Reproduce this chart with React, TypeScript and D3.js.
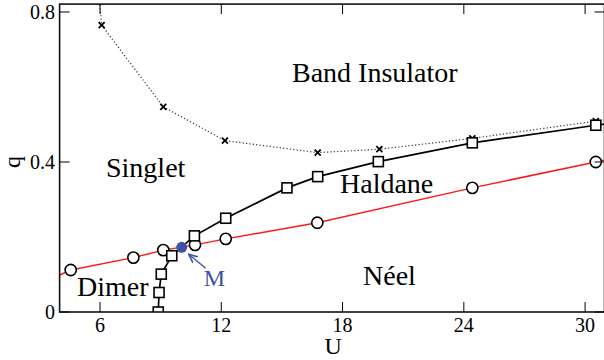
import React from "react";
import * as d3 from "d3";

// Phase boundaries (U on x, q on y)
const U_SQUARE = [8.88, 8.92, 9.03, 9.55, 10.67, 12.22, 15.25, 16.77, 19.77, 24.42, 30.53];
const Q_SQUARE = [0, 0.052, 0.101, 0.15, 0.203, 0.25, 0.331, 0.361, 0.401, 0.451, 0.498];

const U_CIRCLE = [4.55, 7.65, 9.13, 10.7, 12.22, 16.75, 24.42, 30.53];
const Q_CIRCLE = [0.112, 0.145, 0.165, 0.179, 0.195, 0.238, 0.331, 0.4];

const U_CROSS = [6.08, 9.13, 12.18, 16.77, 19.82, 24.42, 30.53];
const Q_CROSS = [0.765, 0.547, 0.457, 0.425, 0.434, 0.463, 0.509];

// line ends that run off the frame (clipped)
const RED_START: [number, number] = [0, 0];
const RED_END: [number, number] = [31.5, 0.411];
const SQUARE_END: [number, number] = [31.5, 0.505];
const CROSS_START: [number, number] = [5.85, 0.9];
const CROSS_END: [number, number] = [31.5, 0.516];

const POINT_M: [number, number] = [10.04, 0.1725];

const X_TICKS = [6, 12, 18, 24, 30];
const Y_TICKS = [0, 0.4, 0.8];
const Y_TICK_LABELS = ["0", "0.4", "0.8"];

const REGIONS = [
  { text: "Band Insulator", x: 292, y: 82 },
  { text: "Singlet", x: 106, y: 177 },
  { text: "Haldane", x: 340, y: 193 },
  { text: "Néel", x: 363, y: 285 },
  { text: "Dimer", x: 77, y: 296 },
];

const W = 604;
const H = 360;
const FONT = "Liberation Serif, Times New Roman, serif";
const BLUE = "#3d52a6";

const zip = (us: number[], qs: number[]): [number, number][] => us.map((u, i) => [u, qs[i]]);

export default function App() {
  const x = d3.scaleLinear().domain([4, 30.96]).range([59.6, 604.5]);
  const y = d3.scaleLinear().domain([0, 0.821]).range([312, 4.1]);
  const [x0, x1] = x.range();
  const [yb, yt] = y.range();

  const line = d3
    .line<[number, number]>()
    .x((d) => x(d[0]))
    .y((d) => y(d[1]));

  const squares = zip(U_SQUARE, Q_SQUARE);
  const circles = zip(U_CIRCLE, Q_CIRCLE);
  const crosses = zip(U_CROSS, Q_CROSS);

  const mx = x(POINT_M[0]);
  const my = y(POINT_M[1]);

  return (
    <svg width={W} height={H} style={{ position: "absolute", left: 0, top: 0, background: "white", fontFamily: FONT }}>
      <defs>
        <clipPath id="plot">
          <rect x={x0} y={yt} width={x1 - x0} height={yb - yt} />
        </clipPath>
        <marker id="arrow" viewBox="0 0 10 10" refX="9" refY="5" markerWidth="7" markerHeight="7" orient="auto">
          <path d="M0,1 L9,5 L0,9" fill="none" stroke={BLUE} strokeWidth={1.6} />
        </marker>
      </defs>

      <g clipPath="url(#plot)">
        {/* dotted band-insulator boundary */}
        <path d={line([CROSS_START, ...crosses, CROSS_END]) ?? ""} fill="none"
          stroke="#333" strokeWidth={1.2} strokeDasharray="1.2,2.2" />
        {crosses.map(([u, q], i) => (
          <path key={`x${i}`} d={`M${x(u) - 3},${y(q) - 3}L${x(u) + 3},${y(q) + 3}M${x(u) - 3},${y(q) + 3}L${x(u) + 3},${y(q) - 3}`}
            stroke="#000" strokeWidth={1.8} />
        ))}

        {/* red line with circles */}
        <path d={line([RED_START, ...circles, RED_END]) ?? ""} fill="none" stroke="#ff1a1a" strokeWidth={1.5} />
        {/* black line with squares */}
        <path d={line([...squares, SQUARE_END]) ?? ""} fill="none" stroke="#000" strokeWidth={1.7} />

        {circles.map(([u, q], i) => (
          <circle key={`c${i}`} cx={x(u)} cy={y(q)} r={5.6} fill="white" stroke="#000" strokeWidth={1.6} />
        ))}
        {squares.map(([u, q], i) => (
          <rect key={`s${i}`} x={x(u) - 5} y={y(q) - 5} width={10} height={10} fill="white" stroke="#000" strokeWidth={1.6} />
        ))}
      </g>

      {/* point M */}
      <circle cx={mx} cy={my} r={5.5} fill={BLUE} />
      <line x1={mx + 24} y1={my + 21} x2={mx + 7} y2={my + 7} stroke={BLUE} strokeWidth={1.4} markerEnd="url(#arrow)" />
      <text x={mx + 22} y={my + 39} fontFamily={FONT} fontSize={24} fill={BLUE}>M</text>

      {/* frame */}
      <rect x={x0} y={yt} width={x1 - x0} height={yb - yt} fill="none" stroke="#111" strokeWidth={1.6} />

      {/* ticks, mirrored on all sides */}
      {X_TICKS.map((t) => (
        <g key={`xt${t}`}>
          <line x1={x(t)} x2={x(t)} y1={yb} y2={yb - 10} stroke="#000" strokeWidth={1} />
          <line x1={x(t)} x2={x(t)} y1={yt} y2={yt + 10} stroke="#000" strokeWidth={1} />
          <text x={x(t)} y={yb + 20} textAnchor="middle" fontFamily={FONT} fontSize={20} fill="#000">{t}</text>
        </g>
      ))}
      {Y_TICKS.map((t, i) => (
        <g key={`yt${t}`}>
          <line x1={x0} x2={x0 + 10} y1={y(t)} y2={y(t)} stroke="#000" strokeWidth={1} />
          <line x1={x1} x2={x1 - 10} y1={y(t)} y2={y(t)} stroke="#000" strokeWidth={1} />
          <text x={55} y={y(t)} dy="0.35em" textAnchor="end" fontFamily={FONT} fontSize={20} fill="#000">{Y_TICK_LABELS[i]}</text>
        </g>
      ))}

      {/* axis titles */}
      <text x={(x0 + x1) / 2 + 1} y={354} textAnchor="middle" fontFamily={FONT} fontSize={24} fill="#000">U</text>
      <text transform="translate(20,162) rotate(-90)" textAnchor="middle" fontFamily={FONT} fontSize={24} fill="#000">q</text>

      {/* phase labels */}
      {REGIONS.map((r) => (
        <text key={r.text} x={r.x} y={r.y} fontFamily={FONT} fontSize={28} fill="#000">{r.text}</text>
      ))}
    </svg>
  );
}
